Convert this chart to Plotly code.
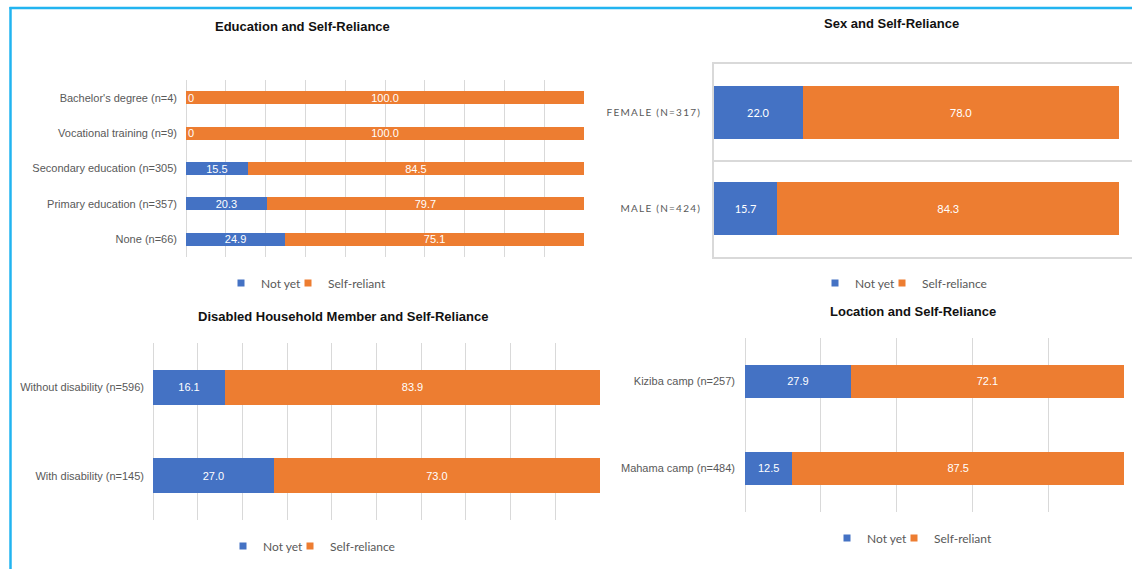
import plotly.graph_objects as go

W, H = 1132, 569

BLUE = "#4472C4"
ORANGE = "#ED7D31"
GRID = "#D9D9D9"
TICK = "#595959"
FONT = "Liberation Sans, Arial, sans-serif"
FONT2 = "Lato, Carlito, sans-serif"

# ---- data -------------------------------------------------------------
edu_cats = ["Bachelor's degree (n=4)", "Vocational training (n=9)",
            "Secondary education (n=305)", "Primary education (n=357)",
            "None (n=66)"]
edu_not_yet = [0.0, 0.0, 15.5, 20.3, 24.9]
edu_self = [100.0, 100.0, 84.5, 79.7, 75.1]

sex_cats = ["FEMALE (N=317)", "MALE (N=424)"]
sex_not_yet = [22.0, 15.7]
sex_self = [78.0, 84.3]

dis_cats = ["Without disability (n=596)", "With disability (n=145)"]
dis_not_yet = [16.1, 27.0]
dis_self = [83.9, 73.0]

loc_cats = ["Kiziba camp (n=257)", "Mahama camp (n=484)"]
loc_not_yet = [27.9, 12.5]
loc_self = [72.1, 87.5]


def spaced(s):
    # letter-spaced category labels
    return "\u2009".join(s)


def fx(px):
    return px / W


def fy(py):
    return 1 - py / H


def labels(vals):
    return [f"{v:.1f}" if v > 0 else "" for v in vals]


fig = go.Figure()

panels = [
    # cats, not yet, self, axis suffix, legend, names, bar width, font, size
    (edu_cats, edu_not_yet, edu_self, "", "legend", ("Not yet", "Self-reliant"), 0.37, FONT, 11),
    ([spaced(c) for c in sex_cats], sex_not_yet, sex_self, "2", "legend2", ("Not yet", "Self-reliance"), 0.55, FONT2, 11),
    (dis_cats, dis_not_yet, dis_self, "3", "legend3", ("Not yet", "Self-reliance"), 0.40, FONT, 11),
    (loc_cats, loc_not_yet, loc_self, "4", "legend4", ("Not yet", "Self-reliant"), 0.39, FONT, 11),
]

for cats, ny, sr, ax, leg, names, bw, tfont, tsize in panels:
    for i, (vals, name, color) in enumerate(((ny, names[0], BLUE), (sr, names[1], ORANGE))):
        fig.add_trace(go.Bar(
            y=cats, x=vals, orientation="h", name=name,
            marker=dict(color=color, line=dict(width=0)),
            width=bw,
            text=labels(vals), textposition="inside",
            insidetextanchor="middle", textangle=0, constraintext="none",
            textfont=dict(color="white", size=tsize, family=tfont),
            xaxis="x" + ax, yaxis="y" + ax, legend=leg,
            showlegend=False, hoverinfo="skip",
        ))
        # legend entry with a small square swatch; the first entry is kept
        # narrow so the two entries sit close together
        fig.add_trace(go.Scatter(
            x=[None], y=[None], mode="markers", name=name,
            marker=dict(symbol="square", size=7, color=color),
            xaxis="x" + ax, yaxis="y" + ax, legend=leg,
            legendwidth=22 if i == 0 else None,
            showlegend=True, hoverinfo="skip",
        ))

# zero-valued "Not yet" segments still carry a label at the bar start
annotations = []
for cat, v in zip(edu_cats, edu_not_yet):
    if v == 0:
        annotations.append(dict(
            x=v, y=cat, xref="x", yref="y", text=f"{v:.0f}",
            xanchor="left", showarrow=False, xshift=0,
            font=dict(color="white", size=11, family=FONT)))

# subplot titles
titles = [
    ("Education and Self-Reliance", 302, 27),
    ("Sex and Self-Reliance", 891, 23),
    ("Disabled Household Member and Self-Reliance", 343, 316),
    ("Location and Self-Reliance", 913, 311),
]
for text, x, y in titles:
    annotations.append(dict(
        x=fx(x), y=fy(y), xref="paper", yref="paper", text=f"<b>{text}</b>",
        showarrow=False, xanchor="center", yanchor="middle",
        font=dict(size=13, color="#111111", family=FONT)))

tickfont = dict(size=11, color=TICK, family=FONT)

layout = dict(
    width=W, height=H, autosize=False,
    margin=dict(l=0, r=0, t=0, b=0),
    paper_bgcolor="white", plot_bgcolor="white",
    barmode="stack",
    annotations=annotations,
    font=dict(family=FONT),
    # panel 1: education
    xaxis=dict(domain=[fx(186), fx(584)], range=[0, 100], dtick=10,
               showgrid=True, gridcolor=GRID, zeroline=True,
               zerolinecolor=GRID, zerolinewidth=1, showticklabels=False,
               anchor="y"),
    yaxis=dict(domain=[fy(257), fy(80)], autorange="reversed",
               showgrid=False, ticks="", ticklabelstandoff=8,
               tickfont=tickfont, anchor="x"),
    # panel 2: sex (boxed plot area with dividers between categories)
    xaxis2=dict(domain=[fx(713.7), fx(1132)], range=[0, 103.2],
                showgrid=False, zeroline=False, showticklabels=False,
                showline=True, mirror=True, linecolor=GRID, linewidth=1.5,
                anchor="y2"),
    yaxis2=dict(domain=[fy(257), fy(64)], autorange="reversed",
                type="category", tickson="boundaries", showgrid=True,
                gridcolor=GRID, gridwidth=1.5, showline=True,
                linecolor=GRID, linewidth=1.5, ticks="",
                ticklabelstandoff=10,
                tickfont=dict(size=10, color=TICK, family=FONT2),
                anchor="x2"),
    # panel 3: disability
    xaxis3=dict(domain=[fx(153), fx(600)], range=[0, 100], dtick=10,
                showgrid=True, gridcolor=GRID, zeroline=True,
                zerolinecolor=GRID, zerolinewidth=1, showticklabels=False,
                anchor="y3"),
    yaxis3=dict(domain=[fy(520), fy(343)], autorange="reversed",
                showgrid=False, ticks="", ticklabelstandoff=8,
                tickfont=tickfont, anchor="x3"),
    # panel 4: location
    xaxis4=dict(domain=[fx(745), fx(1124)], range=[0, 100], dtick=20,
                showgrid=True, gridcolor=GRID, zeroline=True,
                zerolinecolor=GRID, zerolinewidth=1, showticklabels=False,
                anchor="y4"),
    yaxis4=dict(domain=[fy(512), fy(338)], autorange="reversed",
                showgrid=False, ticks="", ticklabelstandoff=9,
                tickfont=tickfont, anchor="x4"),
)

legend_common = dict(orientation="h", xanchor="left", yanchor="middle",
                     bgcolor="rgba(0,0,0,0)", itemwidth=30,
                     traceorder="normal",
                     font=dict(size=12, color=TICK, family=FONT2))
layout["legend"] = dict(x=fx(221), y=fy(283), **legend_common)
layout["legend2"] = dict(x=fx(815), y=fy(283), **legend_common)
layout["legend3"] = dict(x=fx(223), y=fy(546), **legend_common)
layout["legend4"] = dict(x=fx(827), y=fy(538), **legend_common)

# light-blue frame along the top and left edges
layout["shapes"] = [
    dict(type="line", xref="paper", yref="paper",
         x0=fx(10.5), x1=fx(10.5), y0=fy(7), y1=0,
         line=dict(color="#22B4F0", width=2.5)),
    dict(type="line", xref="paper", yref="paper",
         x0=fx(9.5), x1=1, y0=fy(8), y1=fy(8),
         line=dict(color="#22B4F0", width=2.5)),
]

fig.update_layout(**layout)
fig.write_html("out.html")
